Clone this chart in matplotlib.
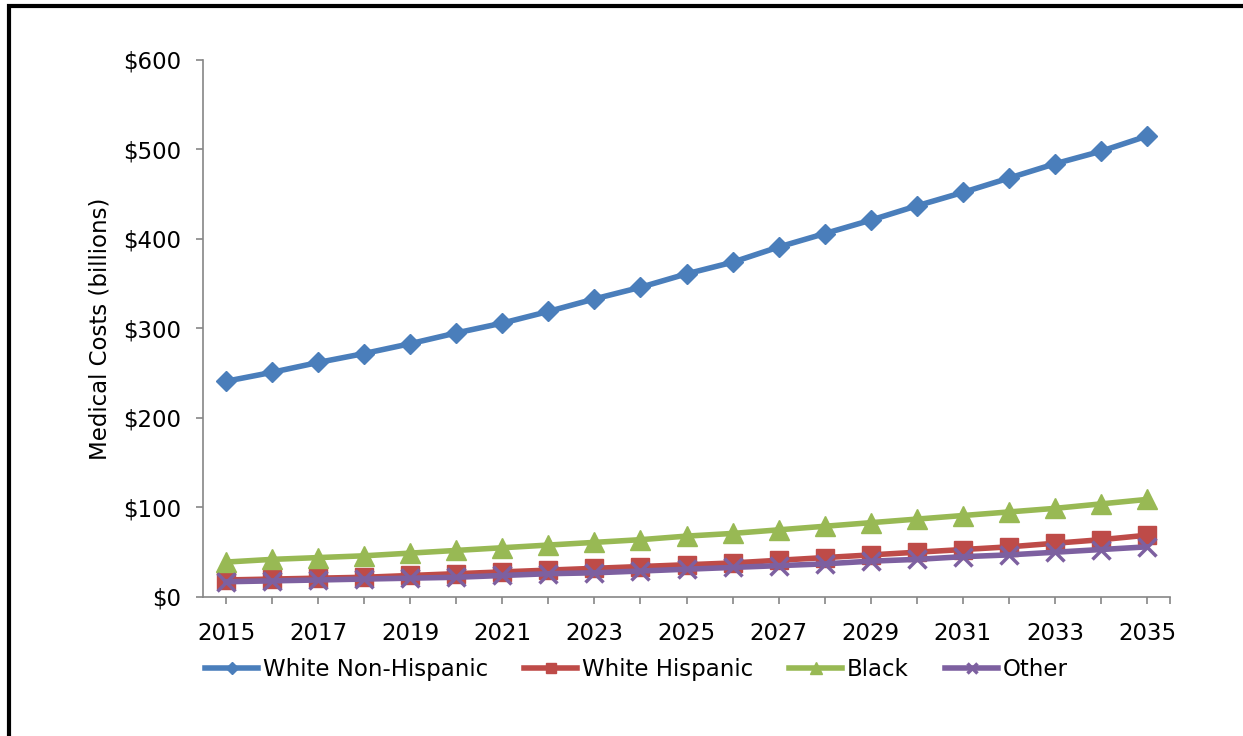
import matplotlib.pyplot as plt
from matplotlib.patches import Rectangle

# Data
years = list(range(2015, 2036))
white_non_hispanic = [241, 251, 262, 272, 283, 295, 306, 319, 333, 346, 361,
                      374, 391, 406, 421, 437, 452, 468, 484, 498, 515]
white_hispanic = [19, 20, 21, 22, 24, 26, 28, 30, 32, 34, 36,
                  38, 41, 44, 47, 50, 53, 56, 60, 64, 69]
black = [39, 42, 44, 46, 49, 52, 55, 58, 61, 64, 68,
         71, 75, 79, 83, 87, 91, 95, 99, 104, 109]
other = [17, 18, 19, 20, 21, 22, 24, 26, 27, 29, 31,
         33, 35, 37, 40, 42, 45, 47, 50, 53, 56]
y_ticks = [0, 100, 200, 300, 400, 500, 600]

plt.rcParams["font.family"] = ["DejaVu Sans"]
fs = 16.5

fig = plt.figure(figsize=(12.43, 7.36), dpi=100)
ax = fig.add_axes([0.1633, 0.1889, 0.778, 0.7296])

lw = 4
ax.plot(years, white_non_hispanic, color="#4A7EBB", lw=lw, marker="D",
        markersize=10, label="White Non-Hispanic")
ax.plot(years, white_hispanic, color="#BE4B48", lw=lw, marker="s",
        markersize=13, label="White Hispanic")
ax.plot(years, black, color="#98B954", lw=lw, marker="^",
        markersize=15, label="Black")
ax.plot(years, other, color="#7D60A0", lw=lw, marker="x",
        markersize=13, markeredgewidth=2.5, label="Other")

ax.set_xlim(2014.5, 2035.5)
ax.set_ylim(0, 600)
ax.set_yticks(y_ticks)
ax.set_yticklabels(["${}".format(v) for v in y_ticks])
ax.set_xticks(years)
ax.set_xticklabels([str(y) if (y - 2015) % 2 == 0 else "" for y in years])
ax.set_xticks([2035.5], minor=True)

for s in ["top", "right"]:
    ax.spines[s].set_visible(False)
for s in ["left", "bottom"]:
    ax.spines[s].set_color("#868686")
    ax.spines[s].set_linewidth(1.2)
ax.tick_params(axis="both", which="both", direction="out", length=5,
               width=1.2, color="#868686", labelsize=fs, labelcolor="black")
ax.tick_params(axis="x", pad=13)
ax.tick_params(axis="y", pad=11)
ax.set_ylabel("Medical Costs (billions)", fontsize=fs, labelpad=8)

fig.legend(loc="center", bbox_to_anchor=(0.512, 0.091), ncol=4, frameon=False,
           fontsize=fs, handlelength=2.3, columnspacing=1.6, handletextpad=0.2,
           markerscale=0.6)

# outer frame (left and top edges visible)
fig.add_artist(Rectangle((8.5 / 1243, -0.5), 2, 0.5 + (736 - 5.5) / 736,
                         transform=fig.transFigure, fill=False,
                         edgecolor="black", linewidth=3, clip_on=False))

fig.savefig("out.png", dpi=100)
